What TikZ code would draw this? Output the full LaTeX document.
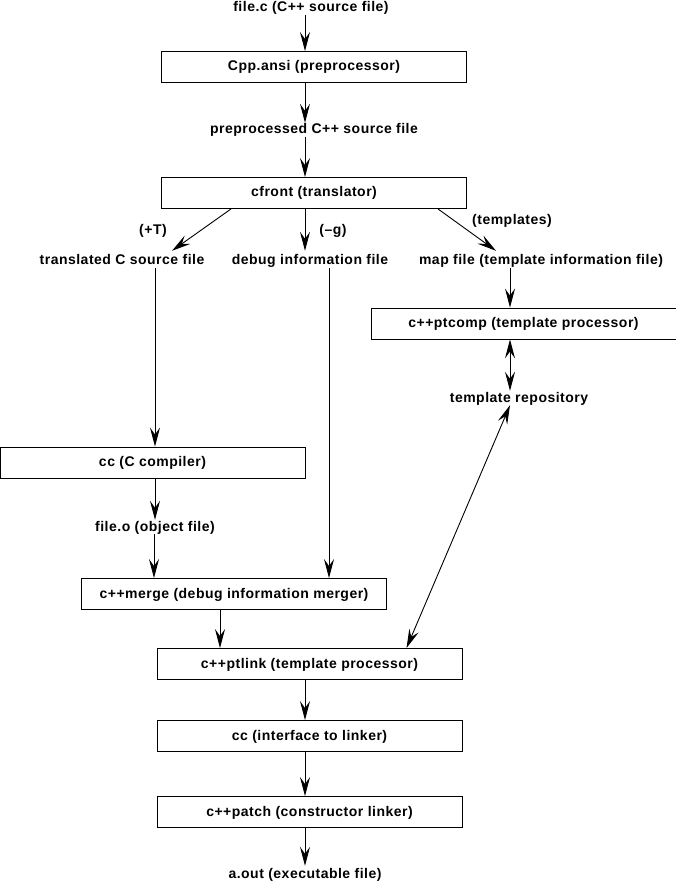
\documentclass[tikz,border=0pt]{standalone}
\usepackage{fontspec}
\setmainfont{Liberation Sans}
\newfontfamily\lblfont{Liberation Sans}[LetterSpace=3.5]
\usetikzlibrary{arrows.meta}
\tikzset{
  lbl/.style={font=\lblfont\bfseries\fontsize{14}{16}\selectfont, inner sep=1pt, text height=10pt, text depth=2pt},
  procbox/.style={draw, line width=0.9pt, minimum width=305pt, minimum height=31pt, inner sep=0pt, text height=10pt, text depth=2pt, font=\lblfont\bfseries\fontsize{14}{16}\selectfont},
  conn/.style={line width=0.9pt, -{Stealth[length=19pt,width=10pt,inset=7pt]}},
  dconn/.style={line width=0.9pt, {Stealth[length=19pt,width=10pt,inset=7pt]}-{Stealth[length=19pt,width=10pt,inset=7pt]}},
}
\begin{document}
\begin{tikzpicture}[x=1pt,y=-1pt]
\useasboundingbox (0,0) rectangle (676,882);
\coordinate (col) at (305,0);
% main column
\node[lbl] (src) at (311,8) {file.c (C++ source file)};
\node[procbox] (cpp) at (314,67) {Cpp.ansi (preprocessor)};
\node[lbl] (pre) at (314,130) {preprocessed C++ source file};
\node[procbox] (cfront) at (314,193) {cfront (translator)};
% branch row
\node[lbl] (tc) at (122,261) {translated C source file};
\node[lbl] (dbg) at (310,261) {debug information file};
\node[lbl] (map) at (541,261) {map file (template information file)};
\node[lbl] (plusT) at (153,231) {(+T)};
\node[lbl] (minusg) at (333,231) {(–g)};
\node[lbl] (tmpl) at (512,221) {(templates)};
% right side
\node[procbox] (ptcomp) at (523.5,323.5) {c++ptcomp (template processor)};
\node[lbl] (repo) at (519,398) {template repository};
% left side
\node[procbox] (cc) at (152.5,462.5) {cc (C compiler)};
\node[lbl] (obj) at (155,527) {file.o (object file)};
\node[procbox] (merge) at (234,594) {c++merge (debug information merger)};
% lower column
\node[procbox] (ptlink) at (309.5,664) {c++ptlink (template processor)};
\node[procbox] (ccl) at (309.5,736) {cc (interface to linker)};
\node[procbox] (patch) at (309.5,812) {c++patch (constructor linker)};
\node[lbl] (aout) at (305,874) {a.out (executable file)};
\coordinate (leftx) at (155,0);
\coordinate (dbgx) at (329,0);
\coordinate (mapx) at (510,0);
% connectors
\draw[conn] (src.south -| col) -- (cpp.north -| col);
\draw[conn] (cpp.south -| col) -- (pre.north -| col);
\draw[conn] (pre.south -| col) -- (cfront.north -| col);
\draw[conn] ([xshift=-83pt]cfront.south) -- ([xshift=50pt,yshift=3pt]tc.north);
\draw[conn] (cfront.south -| col) -- ([yshift=3pt]dbg.north -| col);
\draw[conn] ([xshift=124pt]cfront.south) -- ([xshift=-45pt,yshift=3pt]map.north);
\draw[conn] (tc.south -| leftx) -- (cc.north -| leftx);
\draw[conn] (dbg.south -| dbgx) -- (merge.north -| dbgx);
\draw[conn] (map.south -| mapx) -- (ptcomp.north -| mapx);
\draw[dconn] (ptcomp.south -| mapx) -- (repo.north -| mapx);
\draw[dconn] ([xshift=-9pt]repo.south) -- ([xshift=97pt]ptlink.north);
\draw[conn] (cc.south -| leftx) -- (obj.north -| leftx);
\draw[conn] ([xshift=-1pt]obj.south) -- ([xshift=-80pt]merge.north);
\draw[conn] ([xshift=-14pt]merge.south) -- ([xshift=-89.5pt]ptlink.north);
\draw[conn] (ptlink.south -| col) -- (ccl.north -| col);
\draw[conn] (ccl.south -| col) -- (patch.north -| col);
\draw[conn] (patch.south -| col) -- ([yshift=1pt]aout.north -| col);
\end{tikzpicture}
\end{document}
